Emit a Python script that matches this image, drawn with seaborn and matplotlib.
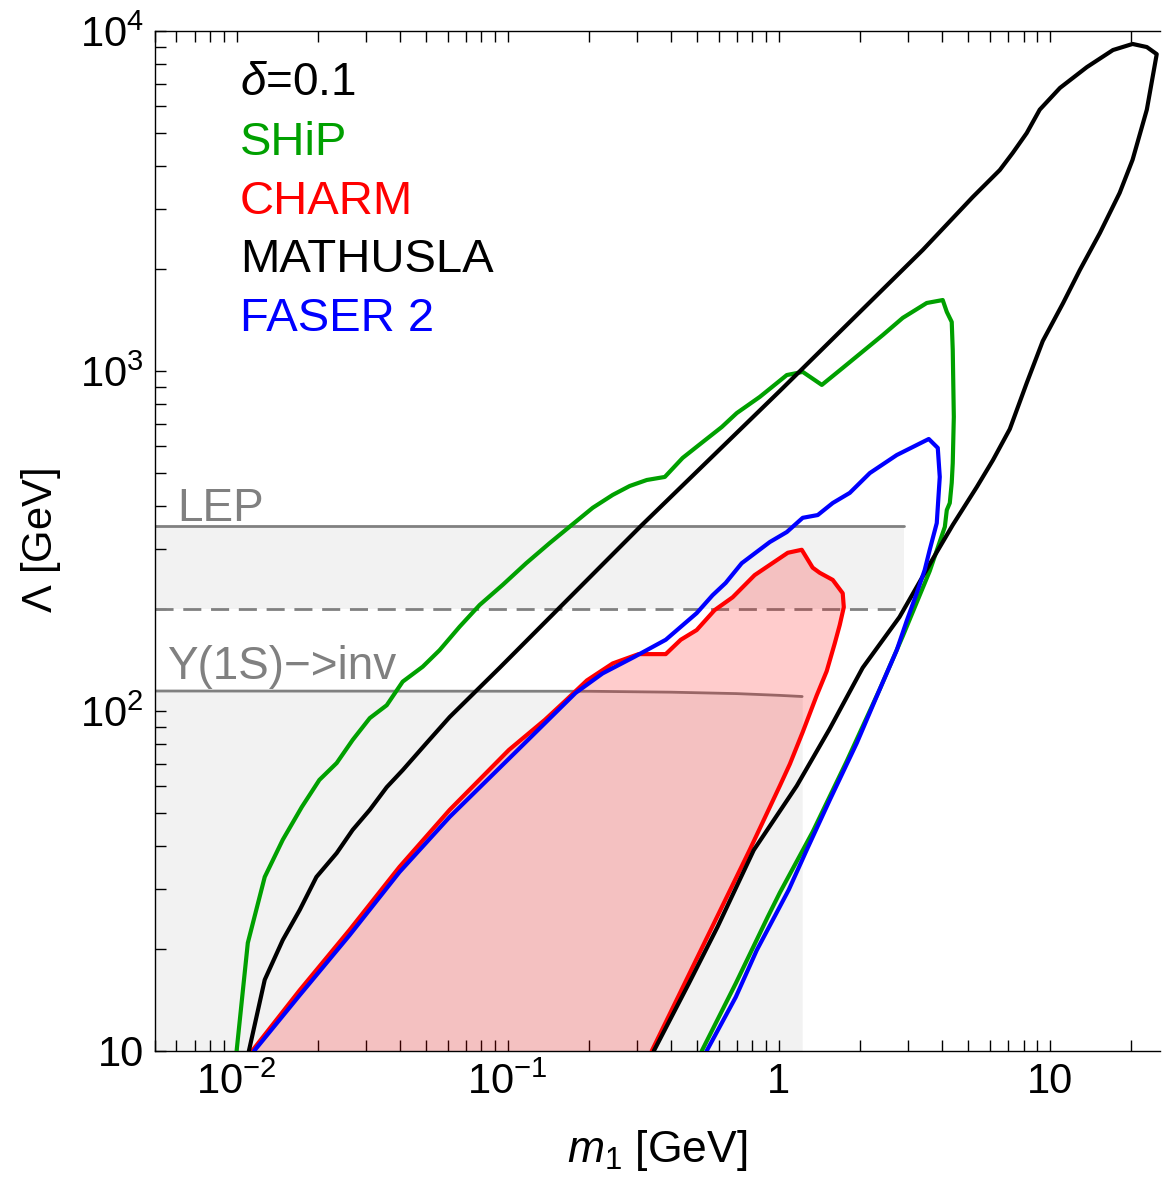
import numpy as np
import seaborn as sns
import matplotlib.pyplot as plt
from matplotlib.ticker import LogLocator, NullFormatter, FixedLocator, FixedFormatter

# contour data (m1 [GeV], Lambda [GeV])
ship_x = [0.0100, 0.0110, 0.0127, 0.0148, 0.0174, 0.0202, 0.0234, 0.0268, 0.0310, 0.0358,
          0.0410, 0.0486, 0.0561, 0.0665, 0.0788, 0.0959, 0.117, 0.143, 0.169, 0.206,
          0.244, 0.282, 0.326, 0.380, 0.442, 0.524, 0.616, 0.700, 0.851, 1.071,
          1.226, 1.442, 1.722, 2.421, 2.868, 3.515, 4.027, 4.169, 4.347, 4.385,
          4.425, 4.385, 4.347, 4.276, 4.169, 4.100, 3.992, 3.606, 2.868, 2.360,
          1.782, 1.334, 1.009, 0.911, 0.694, 0.520]
ship_y = [10, 20.8, 32.5, 41.8, 52.2, 62.7, 70.3, 82.2, 95.3, 104,
          122, 135, 151, 177, 205, 235, 272, 312, 348, 396,
          432, 459, 478, 488, 555, 618, 684, 752, 839, 973,
          994, 910, 1021, 1276, 1433, 1585, 1617, 1492, 1394, 1153,
          733, 536, 469, 409, 390, 348, 327, 258, 166, 116,
          71.2, 44.1, 29.2, 24.8, 15.8, 10]

mathusla_x = [0.0111, 0.0127, 0.0148, 0.0171, 0.0197, 0.0234, 0.0268, 0.0310, 0.0358, 0.0410,
              0.0502, 0.0611, 0.0934, 0.310, 1.01, 3.40, 5.20, 6.54, 7.30, 8.22,
              9.18, 10.9, 13.7, 17.1, 20.2, 22.8, 24.8, 22.8, 20.2, 18.1,
              15.3, 12.9, 11.2, 9.42, 8.22, 7.12, 6.17, 5.38, 4.39, 3.70,
              2.79, 2.04, 1.54, 1.165, 0.809, 0.595, 0.466, 0.346]
mathusla_y = [10, 16.2, 21.2, 26.0, 32.5, 38.2, 44.7, 51.2, 59.7, 67.0,
              80.5, 96, 134, 350, 874, 2270, 3250, 3900, 4380, 5010,
              5870, 6800, 7830, 8790, 9160, 8970, 8550, 5870, 4180, 3340,
              2545, 1980, 1585, 1225, 922, 675, 547, 456, 353, 280,
              189, 134, 88.5, 60.2, 39.0, 23.2, 15.8, 10]

charm_x = [0.0114, 0.0171, 0.0261, 0.0399, 0.0611, 0.101, 0.137, 0.165, 0.196, 0.244,
           0.304, 0.383, 0.435, 0.498, 0.580, 0.676, 0.815, 1.080, 1.216, 1.334,
           1.416, 1.582, 1.722, 1.738, 1.679, 1.609, 1.503, 1.380, 1.226, 1.099,
           1.009, 0.781, 0.340]
charm_y = [10, 15.1, 22.7, 34.8, 51.2, 76.8, 94.1, 108, 123, 138,
           147, 147, 162, 173, 198, 216, 251, 292, 298, 264,
           255, 243, 222, 202, 179, 158, 131, 111, 86.7, 69.8,
           60.2, 39.0, 10]

faser_x = [0.0116, 0.0171, 0.0261, 0.0399, 0.0611, 0.109, 0.178, 0.224, 0.292, 0.383,
           0.498, 0.570, 0.637, 0.730, 0.927, 1.071, 1.226, 1.393, 1.582, 1.828,
           2.168, 2.725, 3.577, 3.861, 3.927, 3.828, 3.606, 3.456, 3.228, 2.965,
           2.725, 2.360, 1.941, 1.542, 1.268, 1.089, 0.830, 0.694, 0.542]
faser_y = [10, 14.6, 21.9, 33.6, 48.8, 76.8, 113, 129, 144, 162,
           194, 219, 238, 272, 314, 336, 370, 377, 409, 438,
           501, 566, 631, 594, 488, 357, 298, 260, 222, 184,
           151, 116, 80.5, 54.7, 39.0, 29.8, 19.8, 14.4, 10]

# existing bounds
lep_x = [0.005, 2.9]
lep_hi = 350
lep_lo = 200
ups_x = [0.005, 0.2, 0.4, 0.7, 1.0, 1.22]
ups_y = [114.5, 114.3, 113.6, 112.5, 111.2, 110.3]

labels = ["SHiP", "CHARM", "MATHUSLA", "FASER 2"]
colors = ["#00a000", "#ff0000", "#000000", "#0000ff"]

sns.set_style("ticks")
plt.rcParams['font.family'] = ['Liberation Sans', 'DejaVu Sans']
plt.rcParams['mathtext.fontset'] = 'custom'
plt.rcParams['mathtext.rm'] = 'Liberation Sans'
plt.rcParams['mathtext.it'] = 'Liberation Sans:italic'
for k in ['text.color', 'axes.labelcolor', 'xtick.color', 'ytick.color', 'axes.edgecolor']:
    plt.rcParams[k] = 'black'

fig = plt.figure(figsize=(11.62, 11.81), dpi=100)
ax = fig.add_axes([155 / 1162, 130 / 1181, 1005 / 1162, 1020 / 1181])
ax.set_xscale('log')
ax.set_yscale('log')
ax.set_xlim(0.005, 25.5)
ax.set_ylim(10, 1e4)

gray = '#808080'
# shaded excluded regions
ax.fill_between(lep_x, lep_lo, lep_hi, color='#f2f2f2', lw=0, zorder=0.5)
ax.fill_between(ups_x, 1, ups_y, color='#f2f2f2', lw=0, zorder=0.5)
ax.plot(lep_x, [lep_hi, lep_hi], color=gray, lw=2.0, zorder=1)
ax.plot(lep_x, [lep_lo, lep_lo], color=gray, lw=2.0, dashes=(6.5, 3.5), zorder=1)
ax.plot(ups_x, ups_y, color=gray, lw=2.0, zorder=1)

# CHARM filled region drawn over the bounds
ax.fill(charm_x, charm_y, color='red', alpha=0.2, lw=0, zorder=2)

curves = [(ship_x, ship_y), (charm_x, charm_y), (mathusla_x, mathusla_y), (faser_x, faser_y)]
for (cx, cy), c in zip(curves, colors):
    sns.lineplot(x=cx, y=cy, sort=False, estimator=None, color=c, lw=3.0, ax=ax, zorder=3)

# labels in the plot
ax.text(0.0846, 0.949, r'$\delta$=0.1', transform=ax.transAxes, fontsize=33, va='center', color='black')
ys = [0.890, 0.832, 0.775, 0.718]
for lab, c, yy in zip(labels, colors, ys):
    ax.text(0.0846, yy, lab, transform=ax.transAxes, fontsize=34, va='center', color=c)
ax.text(0.00605, 362, 'LEP', fontsize=33, color=gray, va='baseline')
ax.text(0.00556, 124, 'Y(1S)\u2212>inv', fontsize=33, color=gray, va='baseline')

# ticks
ax.xaxis.set_major_locator(FixedLocator([0.01, 0.1, 1, 10]))
ax.xaxis.set_major_formatter(FixedFormatter([r'$10^{-2}$', r'$10^{-1}$', '1', '10']))
ax.yaxis.set_major_locator(FixedLocator([10, 100, 1000, 10000]))
ax.yaxis.set_major_formatter(FixedFormatter(['10', r'$10^{2}$', r'$10^{3}$', r'$10^{4}$']))
ax.xaxis.set_minor_locator(LogLocator(base=10, subs=np.arange(2, 10), numticks=100))
ax.yaxis.set_minor_locator(LogLocator(base=10, subs=np.arange(2, 10), numticks=100))
ax.xaxis.set_minor_formatter(NullFormatter())
ax.yaxis.set_minor_formatter(NullFormatter())
ax.tick_params(which='both', direction='in', top=True, right=False, length=8, width=1.0, color='black')
ax.tick_params(which='major', labelsize=30, pad=8, labelcolor='black')

for s in ['left', 'bottom', 'top']:
    ax.spines[s].set_color('black')
    ax.spines[s].set_linewidth(1.0)
ax.spines['right'].set_visible(False)

ax.set_xlabel(r'$m_1$ [GeV]', fontsize=32, labelpad=18)
ax.set_ylabel(r'$\Lambda$ [GeV]', fontsize=30, labelpad=12)

fig.savefig('out.png', dpi=100)
